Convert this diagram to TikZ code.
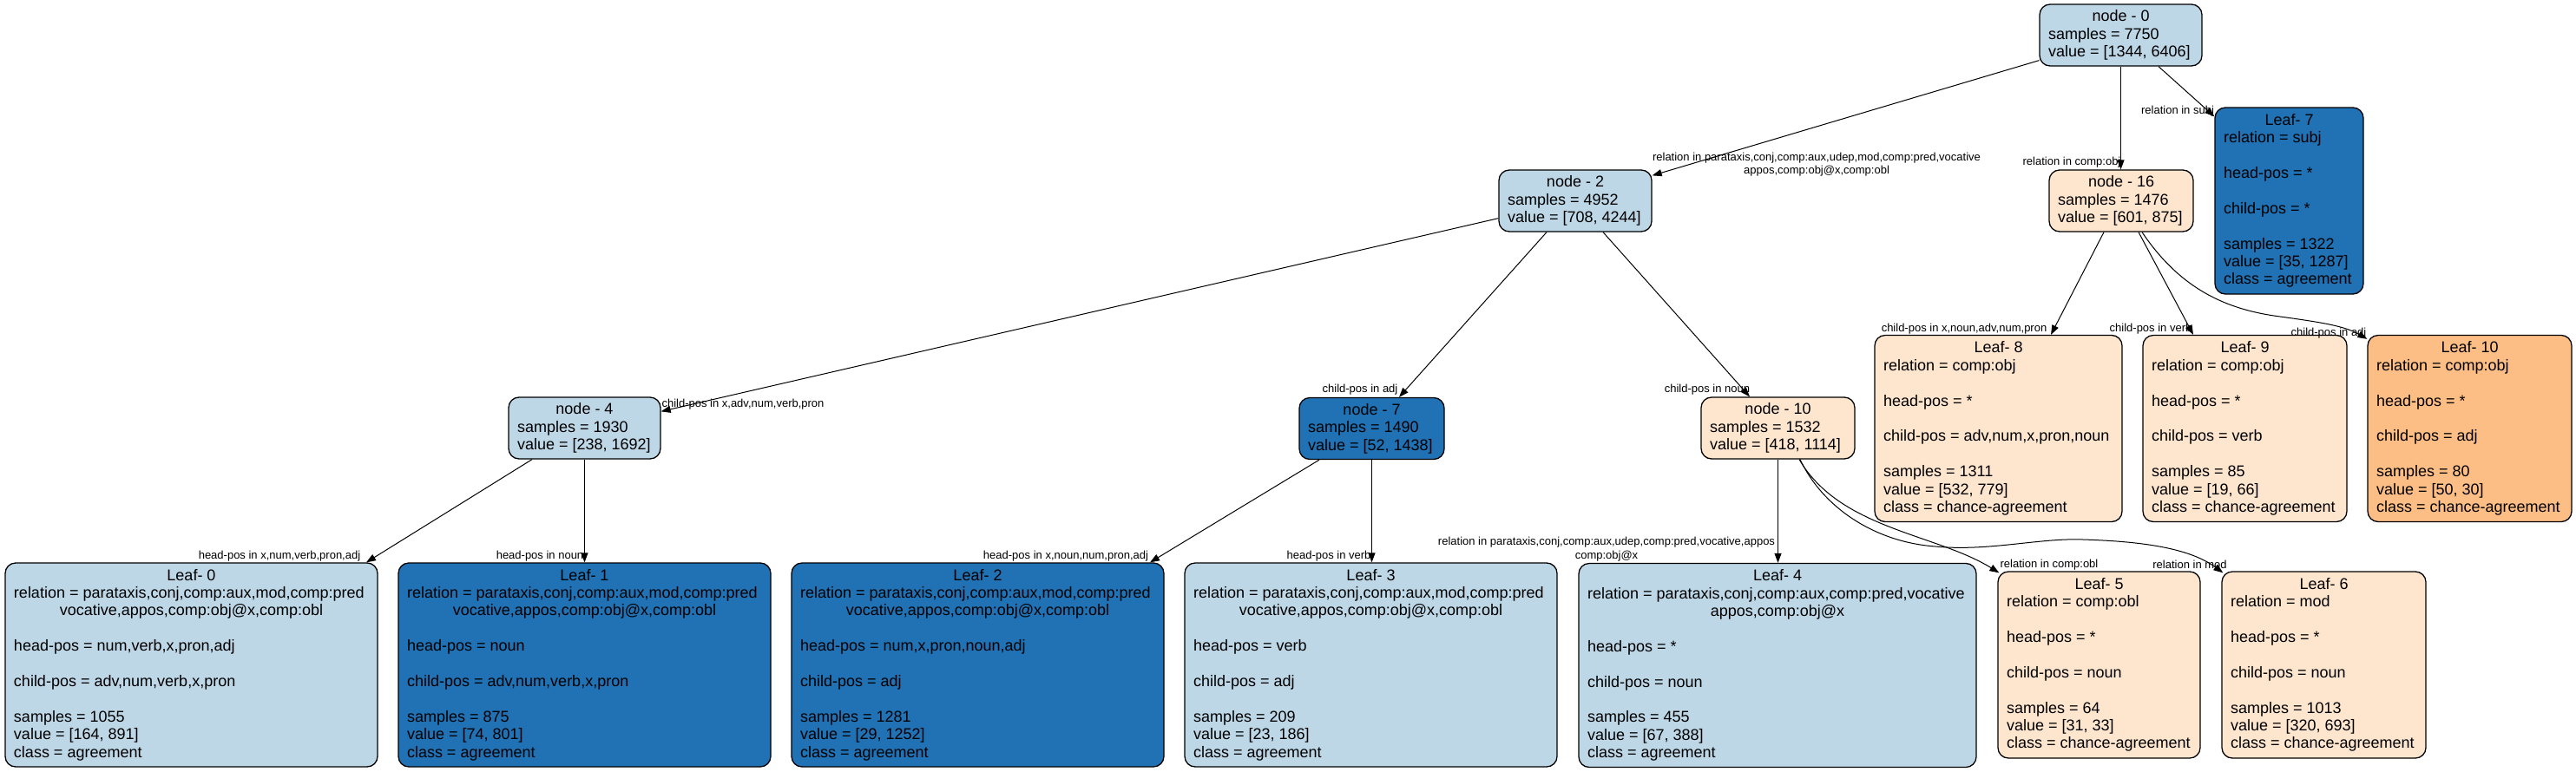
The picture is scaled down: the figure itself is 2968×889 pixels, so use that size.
\documentclass[tikz,border=0pt]{standalone}
\usepackage{fontspec}
\setmainfont{Liberation Sans}
\usetikzlibrary{arrows.meta}
\definecolor{lb}{HTML}{BDD7E7}
\definecolor{db}{HTML}{2171B5}
\definecolor{lo}{HTML}{FEE6CE}
\definecolor{mo}{HTML}{FDBE85}
\begin{document}
\begin{tikzpicture}[x=1pt,y=1pt,
  box/.style={draw=black, line width=1.3pt, rounded corners=12pt, align=left,
    inner xsep=10pt, inner ysep=0pt, font=\fontsize{18}{20.4}\selectfont},
  small/.style={box, minimum height=71pt},
  leaf/.style={box, minimum height=215pt},
  bigleaf/.style={box, minimum height=235pt},
  edge/.style={draw=black, line width=1pt, -{Triangle[length=11pt,width=8pt]}},
  elab/.style={font=\fontsize{13}{15.5}\selectfont, inner sep=0pt, align=center}]
\useasboundingbox (0,0) rectangle (2968,-889);

% ---------- internal nodes ----------
\node[small, fill=lb, minimum width=187pt] (n0) at (2443.5,-40.5)
  {\makebox[167pt]{node - 0}\\samples = 7750\\value = [1344, 6406]};
\node[small, fill=lb, minimum width=176pt] (n2) at (1815,-231.5)
  {\makebox[156pt]{node - 2}\\samples = 4952\\value = [708, 4244]};
\node[small, fill=lo, minimum width=166pt] (n16) at (2444,-231.5)
  {\makebox[146pt]{node - 16}\\samples = 1476\\value = [601, 875]};
\node[small, fill=lb, minimum width=175pt] (n4) at (673.5,-493.5)
  {\makebox[155pt]{node - 4}\\samples = 1930\\value = [238, 1692]};
\node[small, fill=db, minimum width=167pt] (n7) at (1580.5,-494)
  {\makebox[147pt]{node - 7}\\samples = 1490\\value = [52, 1438]};
\node[small, fill=lo, minimum width=177pt] (n10) at (2048.5,-493.5)
  {\makebox[157pt]{node - 10}\\samples = 1532\\value = [418, 1114]};

% ---------- leaves ----------
\node[leaf, fill=db, minimum width=171pt] (L7) at (2637.5,-231.5)
  {\makebox[151pt]{Leaf- 7}\\relation = subj\\ \\head-pos = *\\ \\child-pos = *\\ \\samples = 1322\\value = [35, 1287]\\class = agreement};
\node[leaf, fill=lo, minimum width=285pt] (L8) at (2302.5,-494)
  {\makebox[265pt]{Leaf- 8}\\relation = comp:obj\\ \\head-pos = *\\ \\child-pos = adv,num,x,pron,noun\\ \\samples = 1311\\value = [532, 779]\\class = chance-agreement};
\node[leaf, fill=lo, minimum width=235pt] (L9) at (2586.5,-494)
  {\makebox[215pt]{Leaf- 9}\\relation = comp:obj\\ \\head-pos = *\\ \\child-pos = verb\\ \\samples = 85\\value = [19, 66]\\class = chance-agreement};
\node[leaf, fill=mo, minimum width=235pt] (L10) at (2845.5,-494)
  {\makebox[215pt]{Leaf- 10}\\relation = comp:obj\\ \\head-pos = *\\ \\child-pos = adj\\ \\samples = 80\\value = [50, 30]\\class = chance-agreement};
\node[bigleaf, fill=lb, minimum width=429pt] (L0) at (220.5,-766.5)
  {\makebox[409pt]{Leaf- 0}\\relation = parataxis,conj,comp:aux,mod,comp:pred\\\makebox[409pt]{vocative,appos,comp:obj@x,comp:obl}\\ \\head-pos = num,verb,x,pron,adj\\ \\child-pos = adv,num,verb,x,pron\\ \\samples = 1055\\value = [164, 891]\\class = agreement};
\node[bigleaf, fill=db, minimum width=429pt] (L1) at (673.5,-766.5)
  {\makebox[409pt]{Leaf- 1}\\relation = parataxis,conj,comp:aux,mod,comp:pred\\\makebox[409pt]{vocative,appos,comp:obj@x,comp:obl}\\ \\head-pos = noun\\ \\child-pos = adv,num,verb,x,pron\\ \\samples = 875\\value = [74, 801]\\class = agreement};
\node[bigleaf, fill=db, minimum width=429pt] (L2) at (1126.5,-766.5)
  {\makebox[409pt]{Leaf- 2}\\relation = parataxis,conj,comp:aux,mod,comp:pred\\\makebox[409pt]{vocative,appos,comp:obj@x,comp:obl}\\ \\head-pos = num,x,pron,noun,adj\\ \\child-pos = adj\\ \\samples = 1281\\value = [29, 1252]\\class = agreement};
\node[bigleaf, fill=lb, minimum width=429pt] (L3) at (1579.5,-766.5)
  {\makebox[409pt]{Leaf- 3}\\relation = parataxis,conj,comp:aux,mod,comp:pred\\\makebox[409pt]{vocative,appos,comp:obj@x,comp:obl}\\ \\head-pos = verb\\ \\child-pos = adj\\ \\samples = 209\\value = [23, 186]\\class = agreement};
\node[bigleaf, fill=lb, minimum width=458pt] (L4) at (2048,-767)
  {\makebox[438pt]{Leaf- 4}\\relation = parataxis,conj,comp:aux,comp:pred,vocative\\\makebox[438pt]{appos,comp:obj@x}\\ \\head-pos = *\\ \\child-pos = noun\\ \\samples = 455\\value = [67, 388]\\class = agreement};
\node[leaf, fill=lo, minimum width=233pt] (L5) at (2418.5,-766.5)
  {\makebox[213pt]{Leaf- 5}\\relation = comp:obl\\ \\head-pos = *\\ \\child-pos = noun\\ \\samples = 64\\value = [31, 33]\\class = chance-agreement};
\node[leaf, fill=lo, minimum width=235pt] (L6) at (2677.5,-766.5)
  {\makebox[215pt]{Leaf- 6}\\relation = mod\\ \\head-pos = *\\ \\child-pos = noun\\ \\samples = 1013\\value = [320, 693]\\class = chance-agreement};

% ---------- edges ----------
\draw[edge] ([yshift=7pt]n0.south west) -- ([yshift=-7pt]n2.north east);
\draw[edge] (n0.south) -- (n0.south |- n16.north);
\draw[edge] ([xshift=43.5pt]n0.south) -- ([yshift=-11pt]L7.north west);
\draw[edge] ([yshift=16pt]n2.south west) -- ([yshift=-17pt]n4.north east);
\draw[edge] ([xshift=-33pt]n2.south) -- ([xshift=31.5pt]n7.north);
\draw[edge] ([xshift=32pt]n2.south) -- ([xshift=-32.5pt]n10.north);
\draw[edge] ([xshift=-60.5pt]n4.south) -- ([xshift=201.5pt]L0.north);
\draw[edge] (n4.south) -- (n4.south |- L1.north);
\draw[edge] ([xshift=-60.5pt]n7.south) -- ([xshift=198.5pt]L2.north);
\draw[edge] (n7.south) -- (n7.south |- L3.north);
\draw[edge] (n10.south) -- (n10.south |- L4.north);
\draw[edge] ([xshift=24.5pt]n10.south) .. controls (2120,-610) and (2230,-615) .. ([xshift=2pt,yshift=-2pt]L5.north west);
\draw[edge] ([xshift=25.5pt]n10.south) .. controls (2100,-585) and (2160,-625) .. (2230,-630)
  .. controls (2290,-636) and (2350,-620) .. (2400,-622)
  .. controls (2460,-624) and (2520,-630) .. ([xshift=2pt,yshift=-2pt]L6.north west);
\draw[edge] ([xshift=-20pt]n16.south) -- ([xshift=60.5pt]L8.north);
\draw[edge] ([xshift=20pt]n16.south) -- ([xshift=-59.5pt]L9.north);
\draw[edge] ([xshift=24pt]n16.south) .. controls (2510,-330) and (2560,-355) .. (2620,-364)
  .. controls (2670,-371) and (2700,-375) .. ([yshift=-5pt]L10.north west);

% ---------- edge labels ----------
\node[elab] (l02) at (2093,-189.5) {relation in parataxis,conj,comp:aux,udep,mod,comp:pred,vocative\\appos,comp:obj@x,comp:obl};
\node[elab] (l016) at (2387,-187) {relation in comp:obj};
\node[elab] (l07) at (2509,-128) {relation in subj};
\node[elab] (l24) at (856,-466) {child-pos in x,adv,num,verb,pron};
\node[elab] (l27) at (1567,-449) {child-pos in adj};
\node[elab] (l210) at (1967,-449) {child-pos in noun};
\node[elab] (l40) at (322,-641) {head-pos in x,num,verb,pron,adj};
\node[elab] (l41) at (622,-641) {head-pos in noun};
\node[elab] (l72) at (1228,-641) {head-pos in x,noun,num,pron,adj};
\node[elab] (l73) at (1531,-641) {head-pos in verb};
\node[elab] (l104) at (1851,-633) {relation in parataxis,conj,comp:aux,udep,comp:pred,vocative,appos\\comp:obj@x};
\node[elab] (l105) at (2361,-651) {relation in comp:obl};
\node[elab] (l106) at (2523,-651) {relation in mod};
\node[elab] (l168) at (2263,-379) {child-pos in x,noun,adv,num,pron};
\node[elab] (l169) at (2478,-379) {child-pos in verb};
\node[elab] (l1610) at (2683,-384) {child-pos in adj};
\end{tikzpicture}
\end{document}
